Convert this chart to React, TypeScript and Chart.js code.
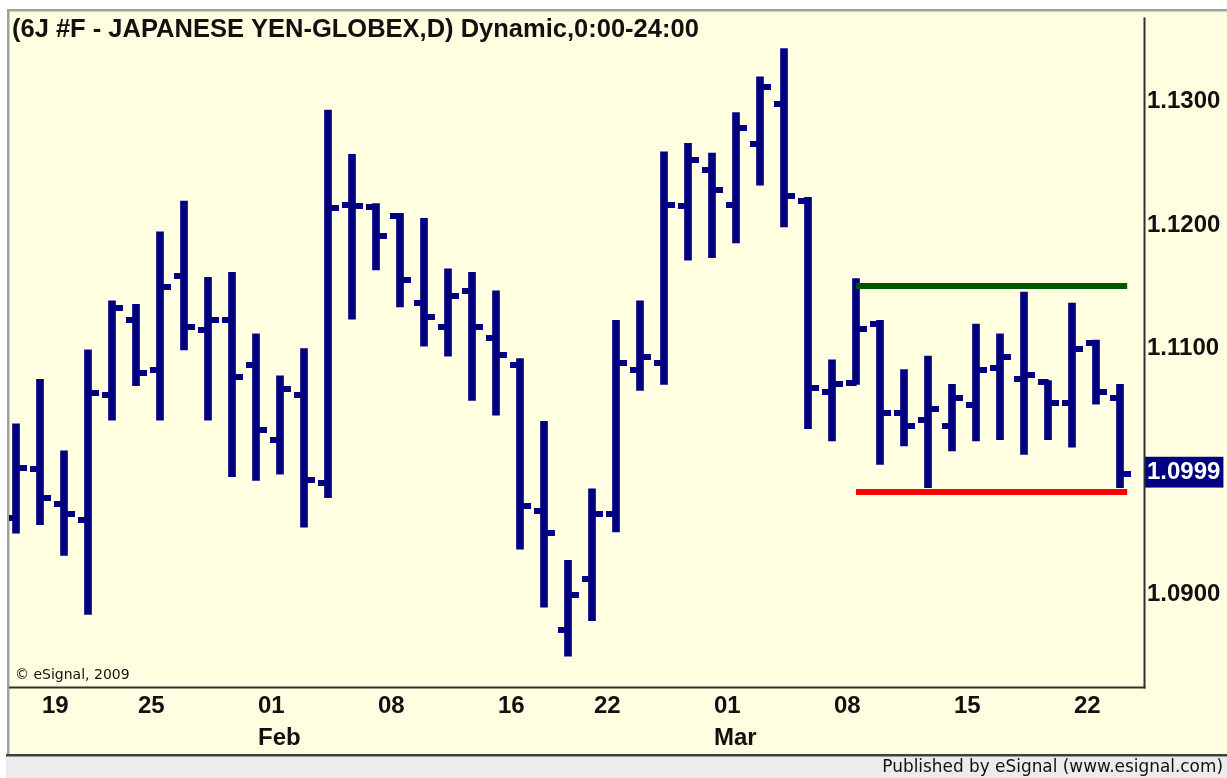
import React, { useEffect, useRef } from 'react';
import { Chart, registerables } from 'chart.js';

Chart.register(...registerables);

// ---- Data (6J #F daily bars, Jan 15 – Mar 24) ----
const dates = [
  '01-15', '01-19', '01-20', '01-21', '01-22',
  '01-25', '01-26', '01-27', '01-28', '01-29',
  '02-01', '02-02', '02-03', '02-04', '02-05',
  '02-08', '02-09', '02-10', '02-11', '02-12',
  '02-16', '02-17', '02-18', '02-19',
  '02-22', '02-23', '02-24', '02-25', '02-26',
  '03-01', '03-02', '03-03', '03-04', '03-05',
  '03-08', '03-09', '03-10', '03-11', '03-12',
  '03-15', '03-16', '03-17', '03-18', '03-19',
  '03-22', '03-23', '03-24',
];

const opens = [
  1.0963, 1.1003, 1.0975, 1.0962, 1.1063,
  1.1124, 1.1084, 1.1160, 1.1116, 1.1124,
  1.1088, 1.1027, 1.1063, 1.0992, 1.1218,
  1.1216, 1.1209, 1.1138, 1.1119, 1.1148,
  1.1110, 1.1088, 1.0969, 1.0872,
  1.0914, 1.0967, 1.1084, 1.1089, 1.1217,
  1.1246, 1.1218, 1.1267, 1.1300, 1.1221,
  1.1066, 1.1073, 1.1121, 1.1049, 1.1043,
  1.1038, 1.1055, 1.1085, 1.1076, 1.1074,
  1.1057, 1.1106, 1.1061,
];

const highs = [
  1.1040, 1.1076, 1.1018, 1.1100, 1.1140,
  1.1137, 1.1196, 1.1221, 1.1159, 1.1163,
  1.1113, 1.1079, 1.1101, 1.1295, 1.1259,
  1.1219, 1.1211, 1.1207, 1.1166, 1.1163,
  1.1148, 1.1093, 1.1042, 1.0929,
  1.0987, 1.1124, 1.1140, 1.1261, 1.1268,
  1.1260, 1.1293, 1.1322, 1.1345, 1.1224,
  1.1092, 1.1158, 1.1124, 1.1084, 1.1095,
  1.1072, 1.1121, 1.1113, 1.1147, 1.1075,
  1.1138, 1.1108, 1.1072,
];

const lows = [
  1.0951, 1.0958, 1.0933, 1.0885, 1.1043,
  1.1071, 1.1043, 1.1100, 1.1043, 1.0997,
  1.0994, 1.0999, 1.0956, 1.0980, 1.1125,
  1.1165, 1.1135, 1.1103, 1.1095, 1.1059,
  1.1047, 1.0938, 1.0891, 1.0851,
  1.0880, 1.0952, 1.1067, 1.1072, 1.1173,
  1.1175, 1.1187, 1.1234, 1.1200, 1.1036,
  1.1026, 1.1072, 1.1007, 1.1022, 1.0988,
  1.1018, 1.1026, 1.1027, 1.1015, 1.1027,
  1.1021, 1.1056, 1.0988,
];

const closes = [
  1.1004, 1.0980, 1.0967, 1.1065, 1.1134,
  1.1081, 1.1151, 1.1119, 1.1124, 1.1078,
  1.1035, 1.1068, 1.0994, 1.1215, 1.1217,
  1.1193, 1.1157, 1.1127, 1.1144, 1.1119,
  1.1096, 1.0973, 1.0951, 1.0901,
  1.0967, 1.1089, 1.1094, 1.1218, 1.1254,
  1.1230, 1.1280, 1.1314, 1.1225, 1.1069,
  1.1072, 1.1117, 1.1049, 1.1038, 1.1052,
  1.1061, 1.1084, 1.1094, 1.1080, 1.1057,
  1.1101, 1.1066, 1.0999,
];

// Date axis labels
const axisDates = ['01-19', '01-25', '02-01', '02-08', '02-16', '02-22', '03-01', '03-08', '03-15', '03-22'];
const monthNames: Record<string, string> = { '02-01': 'Feb', '03-01': 'Mar' };

// Price axis labels
const priceTicks = [1.09, 1.11, 1.12, 1.13];

// Drawn horizontal levels (resistance / support), spanning bar indices
const resistanceLevel = 1.1152;
const supportLevel = 1.09846;
const levelStartIdx = 35.0;
const levelEndIdx = 46.3;

const TITLE = '(6J #F - JAPANESE YEN-GLOBEX,D) Dynamic,0:00-24:00';
const COPYRIGHT = '\u00A9 eSignal, 2009';
const FOOTER = 'Published by eSignal (www.esignal.com)';

const NAVY = '#000080';
const BG = '#FFFEE0';
const SANS = '"Liberation Sans", Arial, sans-serif';

function makeTickImage(side: 'left' | 'right'): HTMLCanvasElement {
  const c = document.createElement('canvas');
  c.width = 21;
  c.height = 6;
  const ctx = c.getContext('2d')!;
  ctx.fillStyle = NAVY;
  if (side === 'left') ctx.fillRect(0, 0, 11, 6);
  else ctx.fillRect(10, 0, 11, 6);
  return c;
}

export default function App() {
  const canvasRef = useRef<HTMLCanvasElement | null>(null);

  useEffect(() => {
    const canvas = canvasRef.current;
    if (!canvas) return;

    const idx = dates.map((_, i) => i);
    const lastClose = closes[closes.length - 1];
    const yTicks = [...priceTicks, lastClose].sort((a, b) => a - b);
    const xTickIdx = axisDates.map((d) => dates.indexOf(d));

    const leftImg = makeTickImage('left');
    const rightImg = makeTickImage('right');

    const framePlugin = {
      id: 'frame',
      beforeDraw(chart: any) {
        const ctx = chart.ctx as CanvasRenderingContext2D;
        const W = chart.width;
        const H = chart.height;
        ctx.save();
        ctx.fillStyle = '#FFFFFF';
        ctx.fillRect(0, 0, W, H);
        ctx.fillStyle = BG;
        ctx.fillRect(7, 9, W - 7, 746);
        ctx.fillStyle = '#A0A0A0';
        ctx.fillRect(7, 9, W - 7, 2.5);
        ctx.fillRect(7, 9, 2.5, 746);
        ctx.fillStyle = '#ECECEC';
        ctx.fillRect(6, 756, W - 6, H - 756);
        ctx.fillStyle = '#404040';
        ctx.fillRect(6, 754, W - 6, 2.5);
        ctx.restore();
      },
      afterDraw(chart: any) {
        const ctx = chart.ctx as CanvasRenderingContext2D;
        const a = chart.chartArea;
        ctx.save();
        ctx.fillStyle = '#303030';
        ctx.fillRect(a.right - 0.5, a.top, 2, a.bottom - a.top + 1.5);
        ctx.fillRect(a.left, a.bottom - 0.5, a.right - a.left + 1.5, 2);

        ctx.fillStyle = '#111111';
        ctx.textBaseline = 'alphabetic';
        ctx.textAlign = 'left';
        ctx.font = `bold 25.5px ${SANS}`;
        ctx.fillText(TITLE, 12, 37);

        ctx.font = '14px "DejaVu Sans", sans-serif';
        ctx.fillText(COPYRIGHT, 15, 679);

        ctx.textAlign = 'right';
        ctx.font = '16.9px "DejaVu Sans", sans-serif';
        ctx.fillText(FOOTER, 1223, 772);
        ctx.restore();
      },
    };

    const chart = new Chart(canvas, {
      type: 'bar',
      data: {
        datasets: [
          {
            type: 'line',
            label: 'Resistance',
            data: [
              { x: levelStartIdx, y: resistanceLevel },
              { x: levelEndIdx, y: resistanceLevel },
            ],
            borderColor: '#005500',
            borderWidth: 6,
            borderCapStyle: 'butt',
            pointRadius: 0,
            order: 0,
          } as any,
          {
            type: 'line',
            label: 'Support',
            data: [
              { x: levelStartIdx, y: supportLevel },
              { x: levelEndIdx, y: supportLevel },
            ],
            borderColor: '#FF0000',
            borderWidth: 6,
            borderCapStyle: 'butt',
            pointRadius: 0,
            order: 0,
          } as any,
          {
            type: 'line',
            label: 'Open',
            data: idx.map((i) => ({ x: i, y: opens[i] })),
            showLine: false,
            pointStyle: leftImg,
            pointRadius: 5,
            order: 1,
          } as any,
          {
            type: 'line',
            label: 'Close',
            data: idx.map((i) => ({ x: i, y: closes[i] })),
            showLine: false,
            pointStyle: rightImg,
            pointRadius: 5,
            order: 1,
          } as any,
          {
            type: 'bar',
            label: 'Range',
            data: idx.map((i) => ({ x: i, y: [lows[i], highs[i]] })),
            backgroundColor: NAVY,
            borderWidth: 0,
            barThickness: 7,
            order: 2,
          } as any,
        ],
      },
      options: {
        responsive: false,
        animation: false,
        devicePixelRatio: 1,
        events: [],
        layout: {
          autoPadding: false,
          padding: { left: 9, top: 11, right: 0, bottom: 0 },
        } as any,
        plugins: {
          legend: { display: false },
          tooltip: { enabled: false },
          title: { display: false },
        },
        scales: {
          x: {
            type: 'linear',
            offset: false,
            min: -0.2917,
            max: 47.0,
            grid: { display: false, drawTicks: false, offset: false },
            border: { display: false },
            afterBuildTicks: (scale: any) => {
              scale.ticks = xTickIdx.map((v) => ({ value: v }));
            },
            afterFit: (scale: any) => {
              scale.height = 91;
            },
            ticks: {
              autoSkip: false,
              maxRotation: 0,
              minRotation: 0,
              align: 'start',
              labelOffset: 2,
              padding: 3,
              color: '#111111',
              font: { family: SANS, size: 24, weight: 'bold', lineHeight: 1.35 },
              callback: (value: any) => {
                const d = dates[Math.round(Number(value))];
                if (!d) return '';
                const day = d.slice(3);
                return monthNames[d] ? [day, monthNames[d]] : day;
              },
            },
          } as any,
          y: {
            type: 'linear',
            position: 'right',
            offset: false,
            min: 1.082601,
            max: 1.137029,
            bounds: 'data',
            grid: { display: false, drawTicks: false },
            border: { display: false },
            afterBuildTicks: (scale: any) => {
              scale.ticks = yTicks.map((v) => ({ value: v }));
            },
            afterFit: (scale: any) => {
              scale.width = 83;
            },
            ticks: {
              autoSkip: false,
              padding: 3,
              labelOffset: -2,
              font: { family: SANS, size: 24, weight: 'bold' },
              color: (ctx: any) => (ctx.tick && ctx.tick.value === lastClose ? '#FFFFFF' : '#111111'),
              showLabelBackdrop: (ctx: any) => !!(ctx.tick && ctx.tick.value === lastClose),
              backdropColor: NAVY,
              backdropPadding: { top: 1, bottom: 1, left: 2, right: 3 },
              callback: (value: any) => Number(value).toFixed(4),
            },
          } as any,
        },
      },
      plugins: [framePlugin],
    });

    return () => {
      chart.destroy();
    };
  }, []);

  return (
    <div style={{ position: 'fixed', left: 0, top: 0, width: 1227, height: 778, overflow: 'hidden' }}>
      <canvas ref={canvasRef} width={1227} height={778} style={{ display: 'block', width: 1227, height: 778 }} />
    </div>
  );
}
